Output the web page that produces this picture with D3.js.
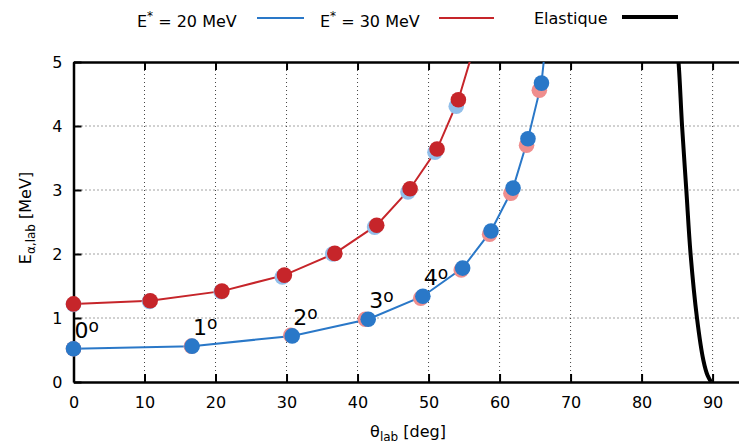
<!DOCTYPE html>
<html><head><meta charset="utf-8">
<script src="https://cdn.jsdelivr.net/npm/d3@7"></script>
<style>body{margin:0;background:#fff}svg{display:block;font-family:"DejaVu Sans",sans-serif}</style>
</head><body><svg id="c" width="739" height="445"></svg>
<script>
// E* = 20 MeV (blue, lower curve)
const blueAngle  = [0, 16.7, 30.8, 41.5, 49.2, 54.8, 58.8, 61.9, 64.0, 65.9];
const blueEnergy = [0.52, 0.56, 0.72, 0.98, 1.34, 1.78, 2.36, 3.03, 3.80, 4.67];
// line continuation beyond the top of the frame
const blueLineEnd = [66.5, 5.3];
// faint companion markers behind the blue points
const blueShadowAngle  = [0, 16.6, 30.6, 41.1, 48.9, 54.6, 58.6, 61.6, 63.8, 65.6];
const blueShadowEnergy = [0.52, 0.56, 0.73, 0.98, 1.31, 1.75, 2.31, 2.95, 3.70, 4.56];

// E* = 30 MeV (red, upper curve)
const redAngle  = [0, 10.8, 20.9, 29.7, 36.8, 42.7, 47.4, 51.2, 54.2];
const redEnergy = [1.22, 1.27, 1.42, 1.67, 2.01, 2.45, 3.02, 3.64, 4.41];
const redLineEnd = [56.6, 5.3];
const redShadowAngle  = [0, 10.7, 20.8, 29.4, 36.5, 42.4, 47.1, 50.9, 53.9];
const redShadowEnergy = [1.21, 1.26, 1.41, 1.64, 2.00, 2.42, 2.97, 3.59, 4.31];

// Elastic kinematic line
const elasticAngle  = [84.9, 85.2, 85.7, 86.3, 86.9, 87.8, 88.7, 89.3, 89.8];
const elasticEnergy = [5.3, 5.0, 4.0, 3.0, 2.0, 1.0, 0.34, 0.1, 0.0];

// CM angle labels attached to the first blue points
const angleLabels = ["0", "1", "2", "3", "4"];

const xTicks = [0, 10, 20, 30, 40, 50, 60, 70, 80, 90];
const yTicks = [0, 1, 2, 3, 4, 5];

const legendNames = ["20", "30", "Elastique"];

const BLUE = "#2a78c8", RED = "#c6252a";
const LBLUE = "#92bfea", LRED = "#ef8e8e";

const svg = d3.select("#c");
const L = 73.5, T = 62, B = 382, R = 741;
const x = d3.scaleLinear().domain([0, 94]).range([L, R]);
const y = d3.scaleLinear().domain([0, 5]).range([B, T]);

svg.append("clipPath").attr("id", "clip").append("rect")
  .attr("x", L).attr("y", T).attr("width", R - L).attr("height", B - T);

// grid
const grid = svg.append("g").attr("stroke", "#444").attr("stroke-width", 1)
  .attr("stroke-dasharray", "1,3");
xTicks.filter(d => d > 0).forEach(d => {
  grid.append("line").attr("x1", x(d)).attr("x2", x(d)).attr("y1", T).attr("y2", B);
});
yTicks.filter(d => d > 0 && d < 5).forEach(d => {
  grid.append("line").attr("x1", L).attr("x2", R).attr("y1", y(d)).attr("y2", y(d));
});

// axes (gnuplot style: ticks inward, mirrored)
const xb = svg.append("g").attr("transform", `translate(0,${B})`)
  .call(d3.axisBottom(x).tickValues(xTicks).tickFormat(d3.format("d")).tickSizeInner(-8).tickSizeOuter(0).tickPadding(15));
const xt = svg.append("g").attr("transform", `translate(0,${T})`)
  .call(d3.axisTop(x).tickValues(xTicks).tickSizeInner(-8).tickSizeOuter(0).tickFormat(""));
const yl = svg.append("g").attr("transform", `translate(${L},0)`)
  .call(d3.axisLeft(y).tickValues(yTicks).tickFormat(d3.format("d")).tickSizeInner(-8).tickSizeOuter(0).tickPadding(11));
[xb, xt, yl].forEach(g => {
  g.select(".domain").attr("stroke", "#000").attr("stroke-width", 2.5);
  g.selectAll(".tick line").attr("stroke", "#000").attr("stroke-width", 2);
  g.selectAll(".tick text").attr("font-size", 16).attr("fill", "#000")
    .attr("font-family", "DejaVu Sans");
});

const plot = svg.append("g").attr("clip-path", "url(#clip)");
const marks = svg.append("g");

// shadows
const mk = (a, e) => a.map((d, i) => [d, e[i]]);
marks.selectAll(".bs").data(mk(blueShadowAngle, blueShadowEnergy)).join("circle")
  .attr("cx", d => x(d[0])).attr("cy", d => y(d[1])).attr("r", 7.8).attr("fill", LRED);
marks.selectAll(".rs").data(mk(redShadowAngle, redShadowEnergy)).join("circle")
  .attr("cx", d => x(d[0])).attr("cy", d => y(d[1])).attr("r", 7.8).attr("fill", LBLUE);

const line = d3.line().x(d => x(d[0])).y(d => y(d[1]));
const smooth = d3.line().x(d => x(d[0])).y(d => y(d[1])).curve(d3.curveCatmullRom.alpha(0.5));
plot.append("path").datum(mk(blueAngle, blueEnergy).concat([blueLineEnd]))
  .attr("d", line).attr("fill", "none").attr("stroke", BLUE).attr("stroke-width", 2);
plot.append("path").datum(mk(redAngle, redEnergy).concat([redLineEnd]))
  .attr("d", line).attr("fill", "none").attr("stroke", RED).attr("stroke-width", 2);
plot.append("path").datum(mk(elasticAngle, elasticEnergy))
  .attr("d", smooth).attr("fill", "none").attr("stroke", "#000").attr("stroke-width", 4);

const pts = svg.append("g");
pts.selectAll(".bp").data(mk(blueAngle, blueEnergy)).join("circle")
  .attr("cx", d => x(d[0])).attr("cy", d => y(d[1])).attr("r", 7.8).attr("fill", BLUE);
pts.selectAll(".rp").data(mk(redAngle, redEnergy)).join("circle")
  .attr("cx", d => x(d[0])).attr("cy", d => y(d[1])).attr("r", 7.8).attr("fill", RED);

// angle labels
angleLabels.forEach((lab, i) => {
  const t = svg.append("text").attr("x", x(blueAngle[i]) + 1).attr("y", y(blueEnergy[i]) - 11)
    .attr("font-size", 22).attr("fill", "#000");
  t.append("tspan").text(lab);
  t.append("tspan").attr("font-size", 17).attr("dy", -6).text("o");
});

// axis titles
const xlab = svg.append("text").attr("x", 408).attr("y", 437).attr("text-anchor", "middle")
  .attr("font-size", 16);
xlab.append("tspan").text("θ");
xlab.append("tspan").attr("font-size", 12).attr("dy", 4).text("lab");
xlab.append("tspan").attr("dy", -4).text(" [deg]");

const ylab = svg.append("text").attr("transform", "translate(31,218) rotate(-90)")
  .attr("text-anchor", "middle").attr("font-size", 16);
ylab.append("tspan").text("E");
ylab.append("tspan").attr("font-size", 12).attr("dy", 4).text("α,lab");
ylab.append("tspan").attr("dy", -4).text(" [MeV]");

// legend
function estar(g, xx, val) {
  const t = g.append("text").attr("x", xx).attr("y", 27).attr("font-size", 16);
  t.append("tspan").text("E");
  t.append("tspan").attr("font-size", 12).attr("dy", -7).text("*");
  t.append("tspan").attr("dy", 7).text(` = ${val} MeV`);
}
const lg = svg.append("g");
estar(lg, 137, legendNames[0]);
lg.append("line").attr("x1", 257).attr("x2", 304).attr("y1", 18).attr("y2", 18)
  .attr("stroke", BLUE).attr("stroke-width", 2);
estar(lg, 320, legendNames[1]);
lg.append("line").attr("x1", 439).attr("x2", 494).attr("y1", 18).attr("y2", 18)
  .attr("stroke", RED).attr("stroke-width", 2);
lg.append("text").attr("x", 534).attr("y", 24).attr("font-size", 16).text(legendNames[2]);
lg.append("line").attr("x1", 622).attr("x2", 678).attr("y1", 17).attr("y2", 17)
  .attr("stroke", "#000").attr("stroke-width", 4);
</script></body></html>
